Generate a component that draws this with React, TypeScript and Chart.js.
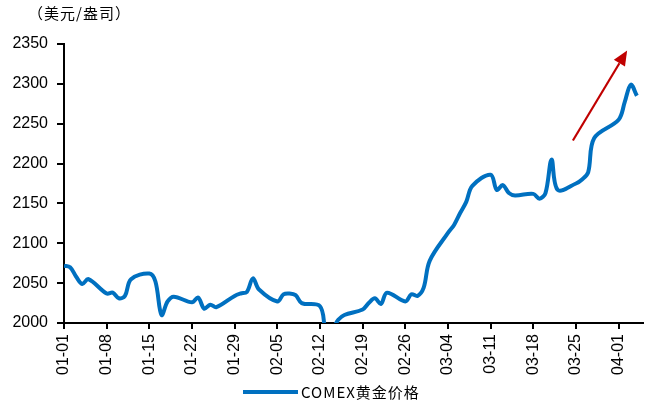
import React, { useEffect, useRef } from 'react';
import { Chart, registerables } from 'chart.js';

Chart.register(...registerables);

// Unit caption and series name
const unitLabel = '（美元/盎司）';
const seriesName = 'COMEX黄金价格';

// Weekly date ticks on the x axis (Mondays, 2024)
const tickLabels = [
  '01-01', '01-08', '01-15', '01-22', '01-29', '02-05', '02-12',
  '02-19', '02-26', '03-04', '03-11', '03-18', '03-25', '04-01',
];

// Trading days (MM-DD, 2024)
const tradeDates = [
  '01-01', '01-02', '01-03', '01-04', '01-05',
  '01-08', '01-09', '01-10', '01-11', '01-12',
  '01-15', '01-16', '01-17', '01-18', '01-19',
  '01-22', '01-23', '01-24', '01-25', '01-26',
  '01-29', '01-30', '01-31', '02-01', '02-02',
  '02-05', '02-06', '02-07', '02-08', '02-09',
  '02-12', '02-13', '02-14', '02-15', '02-16',
  '02-19', '02-20', '02-21', '02-22', '02-23',
  '02-26', '02-27', '02-28', '02-29', '03-01',
  '03-04', '03-05', '03-06', '03-07', '03-08',
  '03-11', '03-12', '03-13', '03-14', '03-15',
  '03-18', '03-19', '03-20', '03-21', '03-22',
  '03-25', '03-26', '03-27', '03-28',
  '04-01', '04-02', '04-03', '04-04',
];

// COMEX gold price, USD/oz
const goldPrice = [
  2072, 2070, 2058, 2049, 2055,
  2037, 2038, 2031, 2034, 2055,
  2062, 2052, 2010, 2027, 2033,
  2026, 2032, 2018, 2023, 2020,
  2034, 2037, 2039, 2056, 2042,
  2027, 2036, 2037, 2035, 2025,
  2021, 1990, 1992, 2004, 2010,
  2017, 2025, 2031, 2024, 2038,
  2027, 2036, 2034, 2044, 2078,
  2113, 2123, 2138, 2152, 2172,
  2186, 2167, 2173, 2163, 2160,
  2162, 2156, 2163, 2205, 2167,
  2175, 2180, 2189, 2232,
  2255, 2277, 2299, 2285,
];

// Value axis range
const yMin = 2000;
const yMax = 2350;
const yStep = 50;

// Trend arrow, in (day of year, price) units
const arrowFrom = { day: 83.5, price: 2229 };
const arrowTo = { day: 92.4, price: 2342 };

const LINE_COLOR = '#0070C0';
const ARROW_COLOR = '#C00000';

const dayIndex = (mmdd: string): number => {
  const [m, d] = mmdd.split('-').map(Number);
  return Math.round((Date.UTC(2024, m - 1, d) - Date.UTC(2024, 0, 1)) / 86400000);
};

const decorations = {
  id: 'decorations',
  afterDraw(chart: any) {
    const { ctx } = chart;
    const xs = chart.scales.x;
    const ys = chart.scales.y;

    // unit caption
    ctx.save();
    ctx.fillStyle = '#000';
    ctx.font = '15px "Noto Sans CJK SC"';
    (ctx as any).letterSpacing = '1px';
    ctx.textBaseline = 'middle';
    ctx.textAlign = 'left';
    ctx.fillText(unitLabel, 28, 13);
    ctx.restore();

    // legend
    ctx.save();
    ctx.strokeStyle = LINE_COLOR;
    ctx.lineWidth = 4;
    ctx.beginPath();
    ctx.moveTo(243, 392);
    ctx.lineTo(298, 392);
    ctx.stroke();
    ctx.fillStyle = '#000';
    ctx.font = '15px "Noto Sans CJK SC"';
    (ctx as any).letterSpacing = '1px';
    ctx.textBaseline = 'middle';
    ctx.textAlign = 'left';
    ctx.fillText(seriesName, 301, 392);
    ctx.restore();

    // trend arrow
    const x0 = xs.getPixelForValue(arrowFrom.day);
    const y0 = ys.getPixelForValue(arrowFrom.price);
    const x1 = xs.getPixelForValue(arrowTo.day);
    const y1 = ys.getPixelForValue(arrowTo.price);
    const ang = Math.atan2(y1 - y0, x1 - x0);
    const headLen = 15;
    const headHalf = 6.5;
    const bx = x1 - headLen * Math.cos(ang);
    const by = y1 - headLen * Math.sin(ang);
    ctx.save();
    ctx.strokeStyle = ARROW_COLOR;
    ctx.fillStyle = ARROW_COLOR;
    ctx.lineWidth = 2.2;
    ctx.beginPath();
    ctx.moveTo(x0, y0);
    ctx.lineTo(bx, by);
    ctx.stroke();
    ctx.beginPath();
    ctx.moveTo(x1, y1);
    ctx.lineTo(bx + headHalf * Math.sin(ang), by - headHalf * Math.cos(ang));
    ctx.lineTo(bx - headHalf * Math.sin(ang), by + headHalf * Math.cos(ang));
    ctx.closePath();
    ctx.fill();
    ctx.restore();
  },
};

export default function App() {
  const canvasRef = useRef<HTMLCanvasElement | null>(null);

  useEffect(() => {
    document.body.style.margin = '0';
    const canvas = canvasRef.current;
    if (!canvas) return;

    const points = tradeDates.map((d, i) => ({ x: dayIndex(d), y: goldPrice[i] }));
    const tickValues = tickLabels.map(dayIndex);

    const chart = new Chart(canvas, {
      type: 'line',
      data: {
        datasets: [
          {
            label: seriesName,
            data: points,
            borderColor: LINE_COLOR,
            backgroundColor: LINE_COLOR,
            borderWidth: 4,
            pointRadius: 0,
            tension: 0.35,
            fill: false,
            clip: { left: 0, top: 4, right: 4, bottom: 0 } as any,
          },
        ],
      },
      options: {
        animation: false,
        responsive: false,
        events: [],
        layout: { padding: { left: 0, top: 44, right: 13, bottom: 0 } },
        plugins: {
          legend: { display: false },
          tooltip: { enabled: false },
          title: { display: false },
        },
        scales: {
          x: {
            type: 'linear',
            min: 0,
            max: 95,
            z: 1,
            afterBuildTicks: (scale: any) => {
              scale.ticks = tickValues.map((v) => ({ value: v }));
            },
            afterFit: (scale: any) => {
              scale.height = 80;
              scale.paddingLeft = 0;
              scale.paddingRight = 0;
            },
            ticks: {
              autoSkip: false,
              minRotation: 90,
              maxRotation: 90,
              padding: 5,
              color: '#000',
              font: { family: '"Liberation Sans", Arial, sans-serif', size: 16 },
              callback: (value: any) => {
                const i = tickValues.indexOf(Number(value));
                return i >= 0 ? tickLabels[i] : '';
              },
            },
            grid: {
              display: true,
              drawOnChartArea: false,
              drawTicks: true,
              tickLength: 6,
              color: '#000',
              lineWidth: 2,
            },
            border: { display: true, color: '#000', width: 2 },
          },
          y: {
            min: yMin,
            max: yMax,
            z: 1,
            afterFit: (scale: any) => {
              scale.width = 64;
              scale.paddingTop = 0;
              scale.paddingBottom = 0;
            },
            ticks: {
              stepSize: yStep,
              padding: 9,
              color: '#000',
              font: { family: '"Liberation Sans", Arial, sans-serif', size: 16 },
              callback: (value: any) => String(value),
            },
            grid: {
              display: true,
              drawOnChartArea: false,
              drawTicks: true,
              tickLength: 7,
              color: '#000',
              lineWidth: 2,
            },
            border: { display: true, color: '#000', width: 2 },
          },
        },
      },
      plugins: [decorations],
    });

    return () => chart.destroy();
  }, []);

  return (
    <div style={{ width: 656, height: 403, background: '#fff' }}>
      <canvas ref={canvasRef} width={656} height={403} style={{ display: 'block' }} />
    </div>
  );
}
